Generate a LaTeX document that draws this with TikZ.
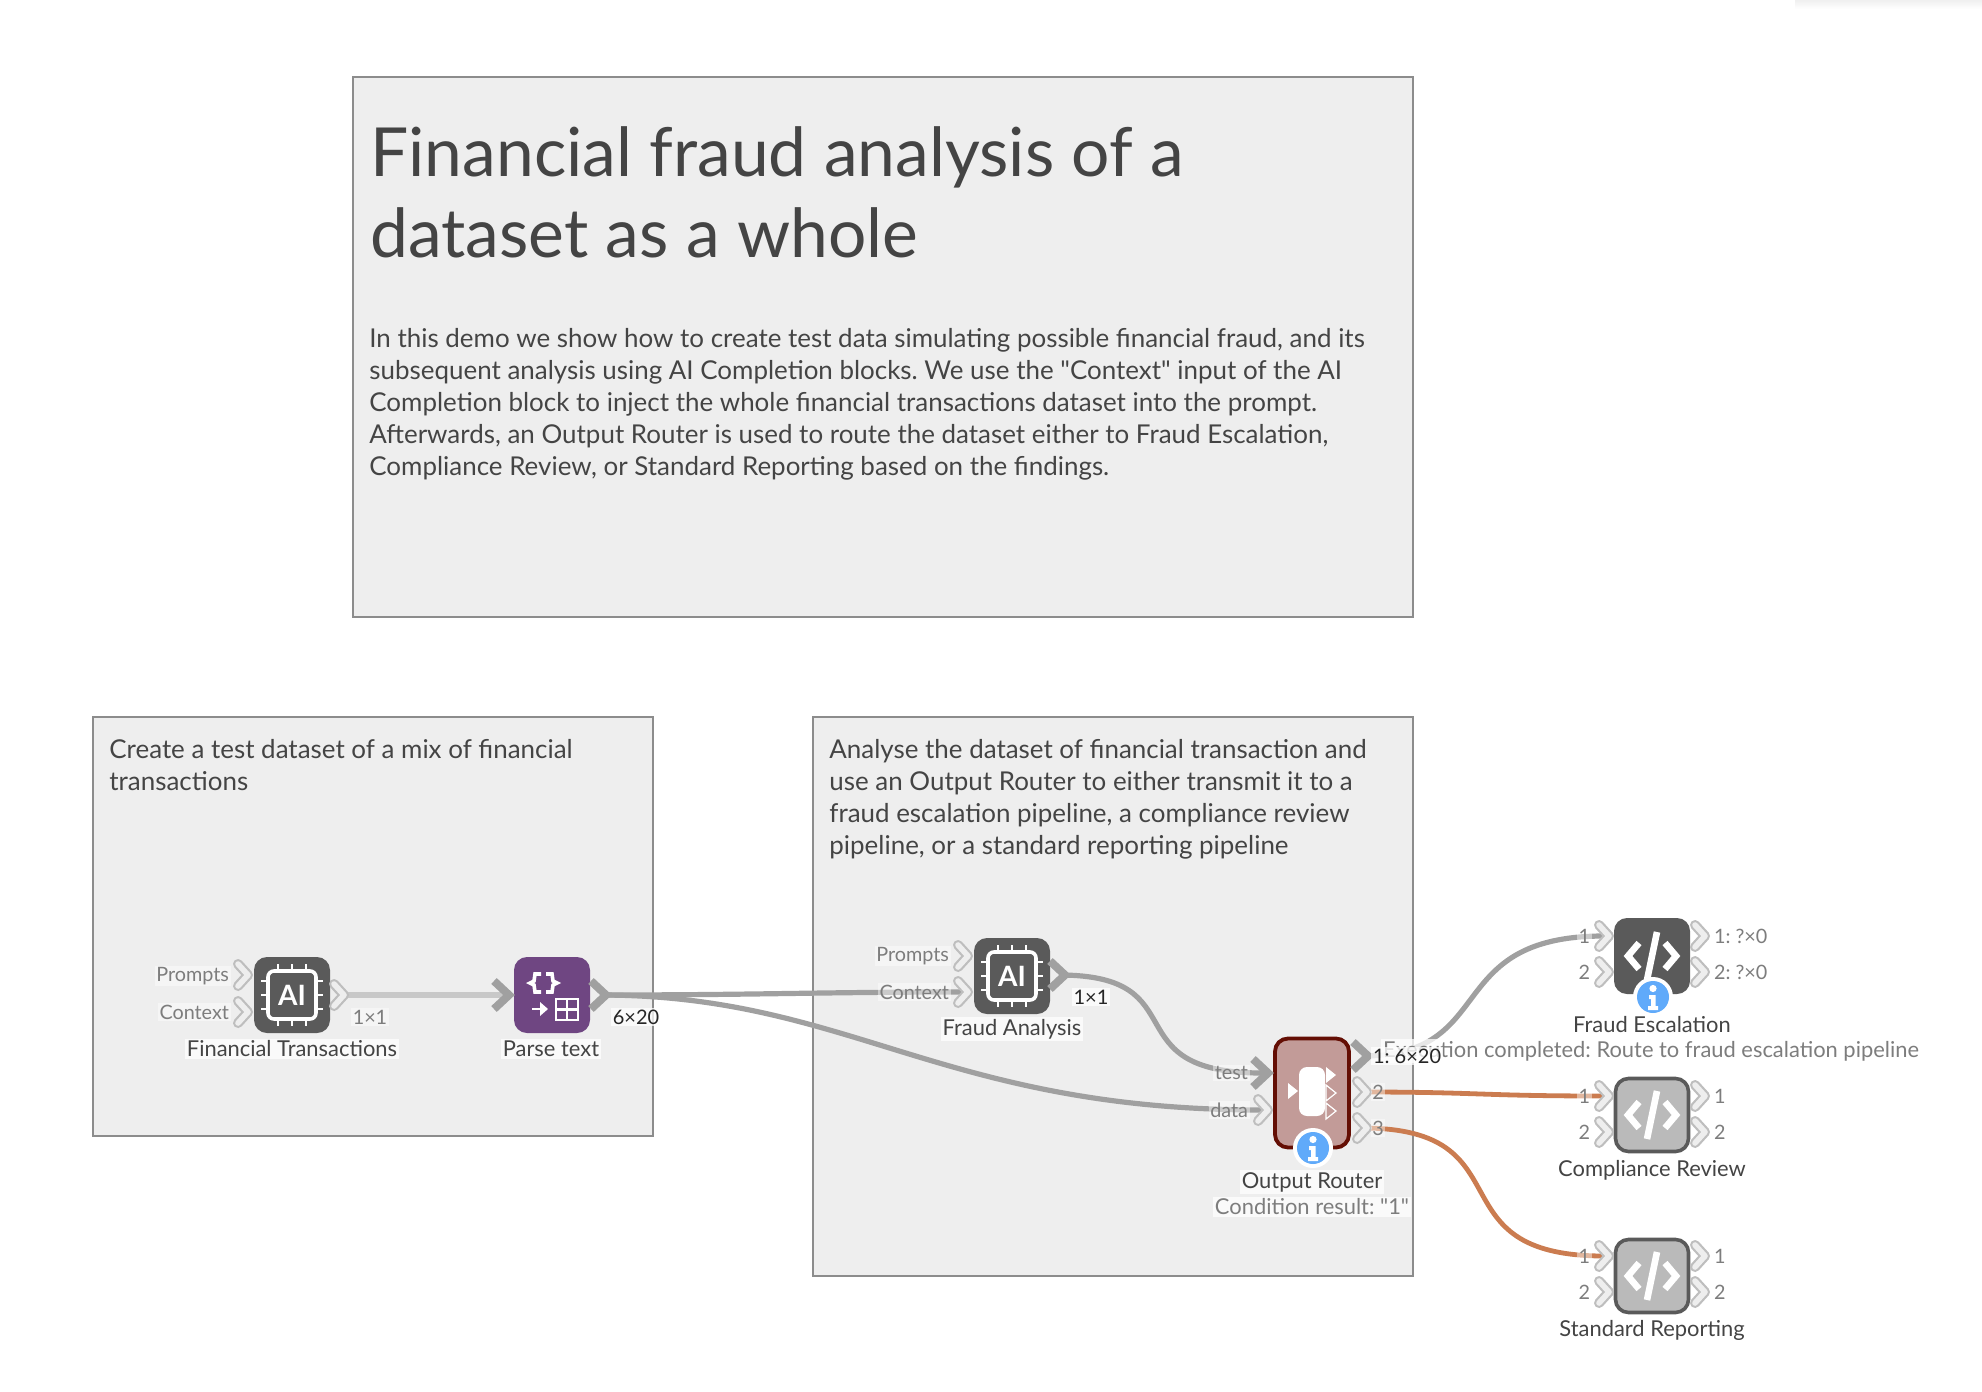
\documentclass[tikz,border=0pt]{standalone}
\usepackage{fontspec}
\setmainfont{Lato}[Ligatures=TeXOff]
\usepackage{xcolor}
\usetikzlibrary{calc}
\definecolor{boxfill}{RGB}{238,238,238}
\definecolor{boxline}{RGB}{140,140,140}
\definecolor{textdark}{RGB}{68,68,68}
\definecolor{textgray}{RGB}{125,125,125}
\definecolor{portgray}{RGB}{190,190,190}
\definecolor{wiregray}{RGB}{160,160,160}
\definecolor{wirelight}{RGB}{200,200,200}
\definecolor{wirehot}{RGB}{203,124,80}
\definecolor{blockdark}{RGB}{90,90,90}
\definecolor{blockidle}{RGB}{186,186,186}
\definecolor{parsepurple}{RGB}{111,70,130}
\definecolor{routerfill}{RGB}{194,155,152}
\definecolor{routerline}{RGB}{100,14,4}
\definecolor{infoblue}{RGB}{96,170,250}
\tikzset{
  note/.style={draw=boxline,line width=0.8pt,fill=boxfill},
  block/.style={rounded corners=6.5pt,minimum size=38pt,inner sep=0pt,fill=blockdark},
  idleblock/.style={block,fill=blockidle,draw=blockdark,line width=1.8pt,minimum size=36.5pt},
  routerblock/.style={block,fill=routerfill,draw=routerline,line width=1.9pt,minimum width=37pt,minimum height=54.5pt},
  parseblock/.style={block,fill=parsepurple},
  blockname/.style={inner sep=1pt,font=\fontsize{10.95}{13}\selectfont,text=textdark,fill=white,fill opacity=0.75,text opacity=1},
  porttag/.style={inner sep=0.8pt,font=\fontsize{9.9}{12}\selectfont,text=textgray,fill=white,fill opacity=0.45,text opacity=1},
  shapetag/.style={inner sep=0.8pt,font=\fontsize{10}{12}\selectfont,text=black!85,fill=white,fill opacity=0.75,text opacity=1},
  wire/.style={line width=2.6pt,draw=wiregray},
  hotwire/.style={line width=2.4pt,draw=wirehot},
  portopen/.pic={
    \draw[line width=5pt,draw=portgray,line join=round,line cap=round] (-5,-11) -- (5,0) -- (-5,11);
    \draw[line width=2.8pt,draw=boxfill,line join=round,line cap=round] (-5,-11) -- (5,0) -- (-5,11);
  },
  portfull/.pic={
    \draw[line width=4pt,draw=wiregray] (-9,-14) -- (6,0) -- (-9,14);
  },
  chipicon/.pic={
    \draw[white,line width=1.8pt,rounded corners=3pt] (-24,-24) rectangle (24,24);
    \foreach \t in {-14,0,14} {
      \draw[white,line width=1.1pt] (\t,-24) -- (\t,-31);
      \draw[white,line width=1.1pt] (\t,24) -- (\t,31);
      \draw[white,line width=1.1pt] (-24,\t) -- (-31,\t);
      \draw[white,line width=1.1pt] (24,\t) -- (31,\t);
    }
    \node[white,inner sep=0pt,font=\bfseries\fontsize{14}{14}\selectfont] (aitext) at (0,0) {AI};
  },
  codeicon/.pic={
    \draw[white,line width=3.3pt,line join=miter] (-13,-13) -- (-24,0) -- (-13,13);
    \draw[white,line width=3.3pt,line join=miter] (13,-13) -- (24,0) -- (13,13);
    \draw[white,line width=3.3pt] (5,-24) -- (-5,24);
  },
  infobadge/.pic={
    \fill[white] (0,0) circle (10pt);
    \fill[infoblue] (0,0) circle (8pt);
    \fill[white] (0,-8.5) circle (1.8pt);
    \fill[white] (-4,-2) -- (2.5,-2) -- (2.5,9) -- (5,9) -- (5,13) -- (-5,13) -- (-5,9) -- (-2,9) -- (-2,2) -- (-4,2) -- cycle;
  },
}

\begin{document}
\frenchspacing
\begin{tikzpicture}[x=0.5pt,y=-0.5pt]
	\useasboundingbox (0,0) rectangle (1982,1392);
	\shade[top color=black!6,bottom color=white] (1795,0) rectangle (1982,9);

	% text boxes
	\draw[note] (353,77) rectangle (1413,617);
	\node[anchor=north west,inner sep=0pt,text=textdark,align=left,font=\fontsize{33.85}{40.5}\selectfont] (title) at (370,126) {Financial fraud analysis of a\\dataset as a whole};
	\node[anchor=north west,inner sep=0pt,text=textdark,align=left,font=\fontsize{12.97}{16}\selectfont] (intro) at (369,328) {In this demo we show how to create test data simulating possible financial fraud, and its\\subsequent analysis using AI Completion blocks. We use the "Context" input of the AI\\Completion block to inject the whole financial transactions dataset into the prompt.\\Afterwards, an Output Router is used to route the dataset either to Fraud Escalation,\\Compliance Review, or Standard Reporting based on the findings.};

	\draw[note] (93,717) rectangle (653,1136);
	\node[anchor=north west,inner sep=0pt,text=textdark,align=left,font=\fontsize{12.97}{16}\selectfont] (leftnote) at (109,739) {Create a test dataset of a mix of financial\\transactions};

	\draw[note] (813,717) rectangle (1413,1276);
	\node[anchor=north west,inner sep=0pt,text=textdark,align=left,font=\fontsize{12.97}{16}\selectfont] (rightnote) at (829,739) {Analyse the dataset of financial transaction and\\use an Output Router to either transmit it to a\\fraud escalation pipeline, a compliance review\\pipeline, or a standard reporting pipeline};

	% ports
	\coordinate (finP) at (243,975);
	\coordinate (finC) at (243,1012);
	\coordinate (finO) at (339,995);
	\coordinate (parI) at (503,995);
	\coordinate (parO) at (600,995);
	\coordinate (anaP) at (963,956);
	\coordinate (anaC) at (963,992);
	\coordinate (anaO) at (1059,975);
	\coordinate (rouT) at (1262,1073);
	\coordinate (rouD) at (1263,1110);
	\coordinate (rouA) at (1362,1056);
	\coordinate (rouB) at (1362,1092);
	\coordinate (rouC) at (1362,1128);
	\coordinate (escA) at (1604,936);
	\coordinate (escB) at (1604,972);
	\coordinate (escX) at (1700,936);
	\coordinate (escY) at (1700,972);
	\coordinate (comA) at (1604,1096);
	\coordinate (comB) at (1604,1132);
	\coordinate (comX) at (1700,1096);
	\coordinate (comY) at (1700,1132);
	\coordinate (staA) at (1604,1256);
	\coordinate (staB) at (1604,1292);
	\coordinate (staX) at (1700,1256);
	\coordinate (staY) at (1700,1292);

	% connectors
	\draw[line width=3pt,draw=wirelight] (finO) -- (parI);
	\draw[wire] (parO) .. controls (760,995) and (820,992) .. (anaC);
	\draw[wire] (parO) .. controls (850,995) and (940,1110) .. (rouD);
	\draw[wire] (anaO) .. controls (1200,975) and (1110,1073) .. (rouT);
	\draw[wire] (rouA) .. controls (1500,1056) and (1440,936) .. (escA);
	\draw[hotwire] (rouB) .. controls (1480,1092) and (1480,1096) .. (comA);
	\draw[hotwire] (rouC) .. controls (1530,1128) and (1430,1256) .. (staA);

	% blocks
	\node[block] (fin) at (292,995) {};
	\node[parseblock] (par) at (552,995) {};
	\node[block] (ana) at (1012,976) {};
	\node[routerblock] (rou) at (1312,1093) {};
	\node[block] (esc) at (1652,956) {};
	\node[idleblock] (com) at (1652,1115) {};
	\node[idleblock] (sta) at (1652,1276) {};

	% icons
	\pic at (fin) {chipicon};
	\pic at (ana) {chipicon};
	\pic at (esc) {codeicon};
	\pic at (com) {codeicon};
	\pic at (sta) {codeicon};
	\draw[white,line width=1.8pt] (541,974) -- (535,974) -- (534,981) -- (530,983) -- (534,985) -- (535,992) -- (541,992);
	\draw[white,line width=1.8pt] (546,974) -- (552,974) -- (553,981) -- (557,983) -- (553,985) -- (552,992) -- (546,992);
	\draw[white,line width=1.4pt] (532,1009) -- (542,1009);
	\fill[white] (548,1009) -- (540,1002) -- (540,1016) -- cycle;
	\draw[white,line width=1.1pt] (556,999) rectangle (578,1020) (567,999) -- (567,1020) (556,1009.5) -- (578,1009.5);
	\fill[white,rounded corners=4pt] (1299,1067) rectangle (1325,1116);
	\fill[white] (1288,1083) -- (1298,1091) -- (1288,1099) -- cycle;
	\fill[white] (1326,1067) -- (1336,1075) -- (1326,1083) -- cycle;
	\foreach \y in {1085,1103} {
		\draw[white,line width=0.6pt] (1326,\y) -- (1336,\y+8) -- (1326,\y+16) -- cycle;
	}

	% port marks
	\foreach \p in {finP,finC,finO,anaP,anaC,rouD,rouB,rouC,escB,escX,escY,comB,comX,comY,staB,staX,staY,escA,comA,staA} {
		\pic at (\p) {portopen};
	}
	\foreach \p in {parI,parO,anaO,rouT,rouA} {
		\pic at (\p) {portfull};
	}

	% badges
	\pic at ($(rou)+(1,55)$) {infobadge};
	\pic at ($(esc)+(1,41)$) {infobadge};

	% labels
	\node[porttag,left] (l1) at (231,976) {Prompts};
	\node[porttag,left] (l2) at (231,1012) {Context};
	\node[porttag] (l3) at (370,1017) {1×1};
	\node[shapetag] (l4) at (636,1017) {6×20};
	\node[porttag,left] (l5) at (951,956) {Prompts};
	\node[porttag,left] (l6) at (951,992) {Context};
	\node[shapetag] (l7) at (1091,997) {1×1};
	\node[porttag,left] (l8) at (1250,1073) {test};
	\node[porttag,left] (l9) at (1250,1110) {data};
	\node[porttag] (l10) at (1378,1092) {2};
	\node[porttag] (l11) at (1378,1128) {3};
	\node[porttag,left] (l12) at (1592,936) {1};
	\node[porttag,left] (l13) at (1592,972) {2};
	\node[porttag,right] (l14) at (1712,936) {1: ?×0};
	\node[porttag,right] (l15) at (1712,972) {2: ?×0};
	\node[porttag,left] (l16) at (1592,1096) {1};
	\node[porttag,left] (l17) at (1592,1132) {2};
	\node[porttag,right] (l18) at (1712,1096) {1};
	\node[porttag,right] (l19) at (1712,1132) {2};
	\node[porttag,left] (l20) at (1592,1256) {1};
	\node[porttag,left] (l21) at (1592,1292) {2};
	\node[porttag,right] (l22) at (1712,1256) {1};
	\node[porttag,right] (l23) at (1712,1292) {2};

	\node[blockname] (n1) at (292,1049) {Financial Transactions};
	\node[blockname] (n2) at (551,1049) {Parse text};
	\node[blockname] (n3) at (1012,1029) {Fraud Analysis};
	\node[blockname] (n4) at (1312,1182) {Output Router};
	\node[blockname,text=textgray] (n5) at (1312,1207) {Condition result: "1"};
	\node[blockname] (n6) at (1652,1025) {Fraud Escalation};
	\node[blockname,text=textgray] (n7) at (1651,1051) {Execution completed: Route to fraud escalation pipeline};
	\node[blockname] (n8) at (1652,1170) {Compliance Review};
	\node[blockname] (n9) at (1652,1330) {Standard Reporting};
	\node[shapetag,right] (l24) at (1371,1056) {1: 6×20};
\end{tikzpicture}
\end{document}
